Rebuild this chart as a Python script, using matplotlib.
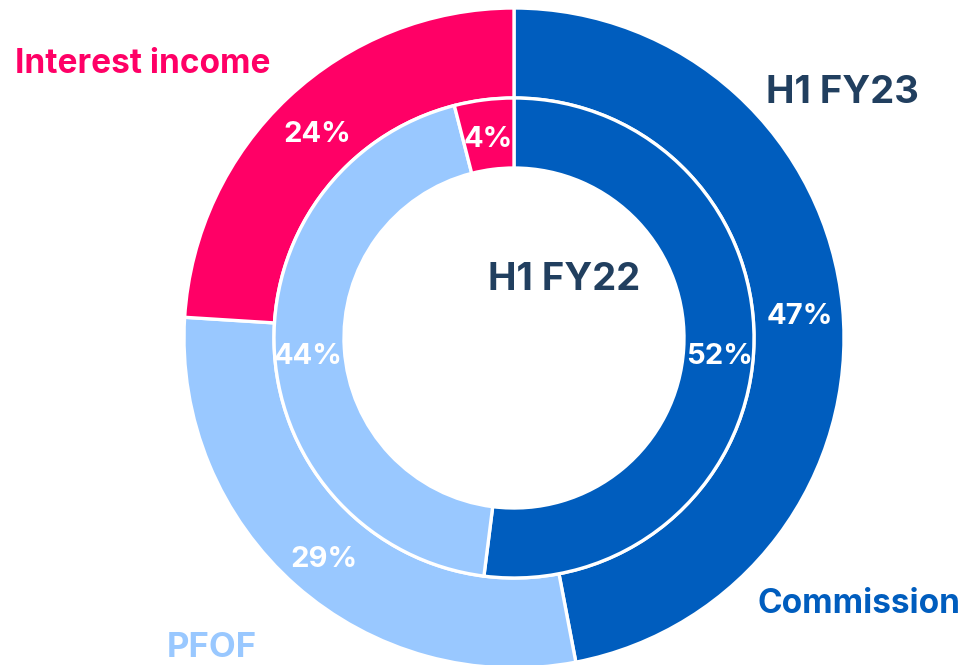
import matplotlib.pyplot as plt

# revenue split, clockwise from 12 o'clock
categories = ['Commission', 'PFOF', 'Interest income']
fy23_share = [47, 29, 24]   # outer ring, H1 FY23
fy22_share = [52, 44, 4]    # inner ring, H1 FY22

colors = ['#005DBE', '#99C8FF', '#FF0066']
navy = '#213F5F'

plt.rcParams['font.family'] = ['Inter', 'DejaVu Sans']

fig = plt.figure(figsize=(9.62, 6.65), dpi=100)
ax = fig.add_axes([0, 0, 1, 1])

# work in pixel-like units, y up
cx, cy = 514, 327
r_out, r_mid, r_in = 330, 240, 170

wedge = dict(edgecolor='white', linewidth=2.4)
txt = dict(color='white', fontsize=21, fontweight='bold')

_, _, outer_pct = ax.pie(fy23_share, colors=colors, startangle=90, counterclock=False,
                         center=(cx, cy), radius=r_out,
                         wedgeprops=dict(width=r_out - r_mid, **wedge),
                         autopct=lambda p: '{:.0f}%'.format(p), pctdistance=0.87,
                         textprops=txt)
_, _, inner_pct = ax.pie(fy22_share, colors=colors, startangle=90, counterclock=False,
                         center=(cx, cy), radius=r_mid,
                         wedgeprops=dict(width=r_mid - r_in, **wedge),
                         autopct=lambda p: '{:.0f}%'.format(p), pctdistance=0.86,
                         textprops=txt)

# nudge percentages a little lower, like the original artwork
for t in list(outer_pct) + list(inner_pct):
    x, y = t.get_position()
    t.set_position((x, y - 6))

ax.set_xlim(0, 962)
ax.set_ylim(0, 665)
ax.set_aspect('equal')
ax.axis('off')

# ——————————————————————————————————————————labels (baseline positions)
ax.text(143, 665 - 73, categories[2], color=colors[2], fontsize=24, fontweight='bold',
        ha='center', va='baseline')
ax.text(859, 665 - 613, categories[0], color=colors[0], fontsize=24, fontweight='bold',
        ha='center', va='baseline')
ax.text(212, 665 - 657, categories[1], color=colors[1], fontsize=25, fontweight='bold',
        ha='center', va='baseline')
ax.text(842, 665 - 103, 'H1 FY23', color=navy, fontsize=27.5, fontweight='bold',
        ha='center', va='baseline')
ax.text(564, 665 - 290, 'H1 FY22', color=navy, fontsize=27.5, fontweight='bold',
        ha='center', va='baseline')

fig.savefig('out.png', dpi=100)
